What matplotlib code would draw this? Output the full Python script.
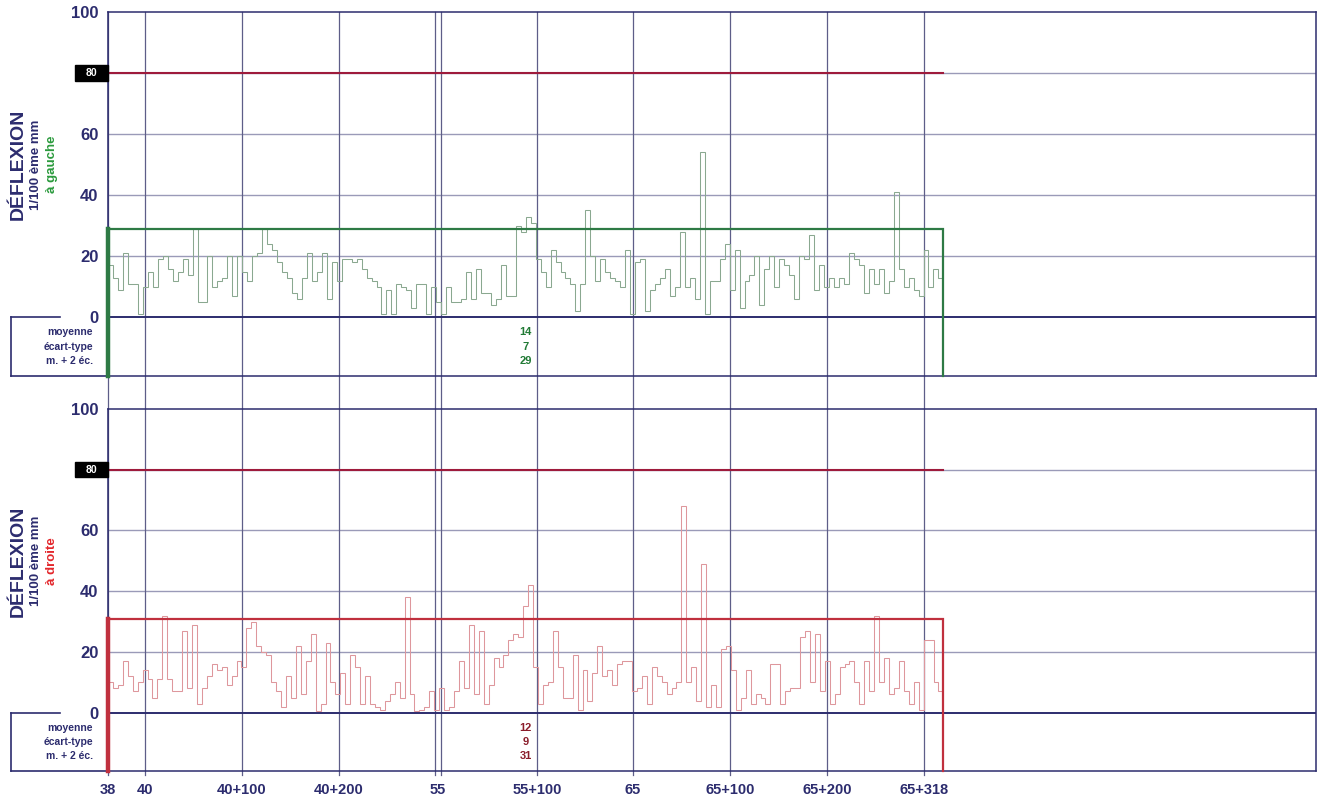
import matplotlib
matplotlib.use("Agg")
import matplotlib.pyplot as plt
from matplotlib.patches import Rectangle
from matplotlib.transforms import blended_transform_factory
import numpy as np

plt.rcParams['font.family'] = ['Liberation Sans', 'DejaVu Sans']

# ---------------------------------------------------------------- data
# chainage labels and their position along the surveyed length (m)
tick_labels = ["38", "40", "40+100", "40+200", "55", "55+100",
               "65", "65+100", "65+200", "65+318"]
tick_pos_m = [0, 38, 138, 238, 340, 442, 541, 641, 741, 841]
# vertical reference lines (the 55 junction is drawn as a double line)
grid_pos_m = [0, 38, 138, 238, 337.5, 343, 442, 541, 641, 741, 841]
survey_end_m = 861
axis_end_m = 1245

# deflection readings, 1/100 mm, left wheel path
left_values = [
    17, 13, 9, 21, 11, 11, 1, 10, 15, 10,
    19, 20, 16, 12, 15, 19, 14, 29, 5, 5,
    20, 10, 12, 13, 20, 7, 20, 15, 12, 20,
    21, 29, 24, 22, 18, 15, 13, 8, 6, 13,
    21, 12, 15, 21, 6, 18, 12, 19, 19, 18,
    19, 16, 13, 12, 10, 1, 9, 1, 11, 10,
    9, 3, 11, 11, 1, 10, 5, 1, 10, 5,
    5, 6, 15, 6, 16, 8, 8, 4, 6, 17,
    7, 7, 30, 28,
    33, 31, 19, 15, 10, 22, 18, 15, 13, 11,
    2, 11, 35, 20, 12, 19, 15, 13, 12, 10,
    22, 1, 18, 19, 2, 9, 11, 13, 16, 7,
    10, 28, 10, 13, 6, 54, 1, 12, 12, 19,
    24, 9, 22, 3, 12, 14, 20, 4, 16, 20,
    10, 19, 17, 14, 6, 20, 19, 27, 9, 17,
    10, 13, 10, 13, 11, 21, 19, 17, 8, 16,
    11, 16, 8, 12, 41, 16, 10, 13, 9, 7,
    22, 10, 16, 13,
]

# deflection readings, 1/100 mm, right wheel path
right_values = [
    10, 8, 9, 17, 12, 7, 10, 14, 11, 5,
    11, 32, 11, 7, 7, 27, 8, 29, 3, 8,
    12, 16, 14, 15, 9, 12, 17, 15, 28, 30,
    22, 20, 19, 10, 7, 2, 12, 5, 22, 6,
    17, 26, 0.5, 3, 23, 10, 6, 13, 3, 19,
    15, 3, 12, 3, 2, 1, 4, 6, 10, 5,
    38, 6, 0.5, 1, 2, 7, 1, 8, 1, 2,
    7, 17, 8, 29, 6, 27, 3, 9, 18, 15,
    19, 24, 26,
    25, 35, 42, 15, 3, 9, 10, 27, 15, 5,
    5, 19, 1, 14, 4, 13, 22, 12, 14, 9,
    16, 17, 17, 7, 8, 12, 3, 15, 12, 10,
    6, 8, 10, 68, 10, 15, 4, 49, 2, 9,
    2, 21, 22, 14, 1, 5, 14, 3, 6, 5,
    3, 16, 16, 3, 7, 8, 8, 25, 27, 10,
    26, 7, 17, 3, 6, 15, 16, 17, 10, 3,
    17, 7, 32, 10, 18, 6, 8, 17, 7, 3,
    10, 1, 24, 24, 10, 7,
]

stat_names = ["moyenne", "écart-type", "m. + 2 éc."]
left_stats = [14, 7, 29]
right_stats = [12, 9, 31]
threshold = 80

# ---------------------------------------------------------------- style
NAVY = "#2c2c6e"
GRID_H = "#9a9ab8"
GRID_V = "#5e5e88"
W, H = 1319, 801
Y_LOW = -19.2

fig = plt.figure(figsize=(W / 100, H / 100), dpi=100)
fig.patch.set_facecolor("white")


def px_axes(left, top, right, bottom):
    return fig.add_axes([left / W, 1 - bottom / H, (right - left) / W, (bottom - top) / H])


def draw_panel(ax, values, stats, side_label, side_color, line_color, box_color,
               stat_color, gap_px, show_labels):
    ax.set_xlim(0, axis_end_m)
    ax.set_ylim(Y_LOW, 100)
    for s in ax.spines.values():
        s.set_color(NAVY)
        s.set_linewidth(1.1)

    # horizontal grid
    for y in (20, 40, 60, 80):
        ax.axhline(y, color=GRID_H, lw=1.0, zorder=1)
    ax.axhline(0, color=NAVY, lw=1.4, zorder=2)

    # vertical chainage lines, continued slightly below the frame
    frac = gap_px / (ax.get_position().height * H)
    for x in grid_pos_m:
        ax.axvline(x, ymin=-frac, ymax=1, color=GRID_V, lw=0.9, zorder=1, clip_on=False)

    # threshold line
    ax.plot([0, survey_end_m], [threshold, threshold], color="#9e1b3c", lw=1.5, zorder=3)

    # deflection profile
    edges = np.linspace(0, survey_end_m, len(values) + 1)
    ax.stairs(values, edges, baseline=None, color=line_color, lw=0.75, zorder=4)

    # mean + 2 sd envelope
    lim = stats[2]
    ax.plot([0, survey_end_m, survey_end_m], [lim, lim, Y_LOW], color=box_color, lw=1.6,
            zorder=5, clip_on=False, solid_joinstyle="miter")
    ax.plot([0, 0], [lim, Y_LOW], color=box_color, lw=3.2, zorder=5, clip_on=False)

    # y tick labels
    ax.set_yticks([0, 20, 40, 60, 100])
    ax.set_yticklabels(["0", "20", "40", "60", "100"], fontsize=12, fontweight="bold",
                       color=NAVY)
    ax.tick_params(axis="y", length=0, pad=7)

    # boxed threshold label
    tr = blended_transform_factory(fig.transFigure, ax.transData)
    ax.add_patch(Rectangle((75 / W, threshold - 2.5), 33 / W, 5.0, transform=tr,
                           facecolor="black", edgecolor="black", clip_on=False, zorder=6))
    ax.text(91 / W, threshold, str(threshold), transform=tr, ha="center", va="center",
            color="white", fontsize=7.5, fontweight="bold", zorder=7)

    # statistics block on the left
    ax.plot([11 / W, 60 / W], [0, 0], transform=tr, color=NAVY, lw=1.2, clip_on=False)
    ax.plot([11 / W, 11 / W], [0, Y_LOW], transform=tr, color=NAVY, lw=1.2, clip_on=False)
    ax.plot([11 / W, 108 / W], [Y_LOW, Y_LOW], transform=tr, color=NAVY, lw=1.2,
            clip_on=False)
    rows = [-4.9, -9.6, -14.4]
    for name, val, y in zip(stat_names, stats, rows):
        ax.text(93 / W, y, name, transform=tr, ha="right", va="center", fontsize=7.5,
                fontweight="bold", color=NAVY)
        ax.text(survey_end_m / 2, y, str(val), ha="center", va="center", fontsize=8,
                fontweight="bold", color=stat_color)

    # y-axis title
    yc = 50
    ax.text(18 / W, yc, "DÉFLEXION", transform=tr, rotation=90, ha="center", va="center",
            fontsize=14, fontweight="bold", color=NAVY)
    ax.text(36 / W, yc, "1/100 ème mm", transform=tr, rotation=90, ha="center",
            va="center", fontsize=9.5, fontweight="bold", color=NAVY)
    ax.text(52 / W, yc, side_label, transform=tr, rotation=90, ha="center", va="center",
            fontsize=9.5, fontweight="bold", color=side_color)

    ax.set_xticks(tick_pos_m)
    if show_labels:
        ax.set_xticklabels(tick_labels, fontsize=10.5, fontweight="bold", color=NAVY)
    else:
        ax.set_xticklabels([])
    ax.tick_params(axis="x", length=0, pad=9)


ax_top = px_axes(108, 12, 1316, 376)
ax_bot = px_axes(108, 409, 1316, 771)

draw_panel(ax_top, left_values, left_stats, "à gauche", "#2a9a3c", "#8aa890", "#2e7a45",
           "#217a35", 33, False)
draw_panel(ax_bot, right_values, right_stats, "à droite", "#e3262b", "#de979c", "#c0303e",
           "#8a1c2a", 4, True)

fig.savefig("out.png", dpi=100, facecolor="white")
